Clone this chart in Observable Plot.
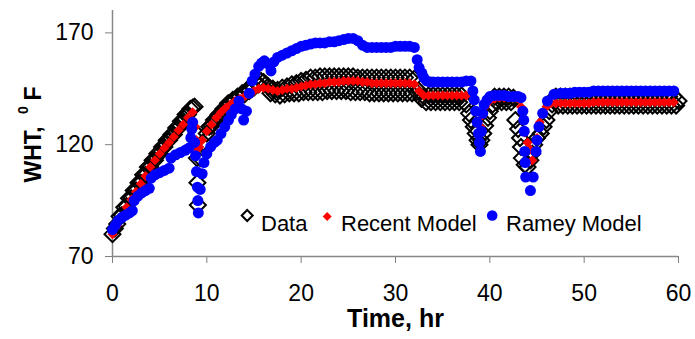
<!DOCTYPE html>
<html><head><meta charset="utf-8">
<script src="https://cdn.jsdelivr.net/npm/d3@7"></script>
<script src="https://cdn.jsdelivr.net/npm/@observablehq/plot@0.6"></script>
<style>
body{margin:0;background:#fff}
#chart svg [aria-label="x-axis tick"], #chart svg [aria-label="y-axis tick"]{stroke:#808080}
#chart svg .tick line{stroke:#808080}
#chart svg text{stroke:none}
</style></head><body><div id="chart"></div>
<script>
const xTicks = [0,10,20,30,40,50,60];
const yTicks = [70,120,170];
const seriesNames = ["Data","Recent Model","Ramey Model"];

// [time (hr), WHT (F)]
const dataSeries = [[0,80],[0.25,82.5],[0.5,84.5],[0.75,88],[1,88.5],[1.25,92],[1.5,92.5],[1.75,96],[2,96],[2.25,99.5],[2.5,99.5],[2.75,103],[3,103],[3.25,106.5],[3.5,106.5],[3.75,110],[4,110],[4.25,113],[4.5,113],[4.75,116],[5,116],[5.25,119],[5.5,119],[5.75,122],[6,122],[6.25,124.5],[6.5,124.5],[6.75,127.5],[7,127.5],[7.25,130.5],[7.5,130.5],[7.75,133.5],[8,133.5],[8.25,136],[8.5,136.5],[8.7,137],
[8.9,125],[8.95,114],[9.0,103],[9.05,93],[9.3,114],[9.6,121],
[10,125],[10.25,128],[10.5,128.5],[10.75,131],[11,131.5],[11.25,133.5],[11.5,134],[11.75,136],[12,136.5],[12.25,138.5],[12.5,138.5],[12.75,140],[13,140],[13.25,141.5],[13.5,141.5],[13.75,143],[14,142.5],[14.25,144.5],[14.5,144],[14.75,146],[15,145.5],[15.25,147.5],[15.5,147],[15.75,148.5],[16,148],[16.25,147],
[16.5,146],[16.75,143],[17,145],[17.25,142.5],[17.5,144.5],[17.75,142],[18,145.5],[18.25,142.5],[18.5,146],[18.75,143],[19,147],[19.25,143],[19.5,147.5],[19.75,143],[20,148.5],[20.25,143.5],[20.5,149],[20.75,143.5],[21,150],[21.25,143.5],[21.5,150],[21.75,143.5],[22,150.5],[22.25,143.5],[22.5,150.5],[22.75,144],[23,150.5],[23.25,144],[23.5,150.5],[23.75,144],[24,150.5],[24.25,144],[24.5,150.5],[24.75,144],[25,150.5],[25.25,143.5],[25.5,150.5],[25.75,143.5],[26,150],[26.25,143.5],[26.5,150],[26.75,143.5],[27,150],[27.25,143],[27.5,150],[27.75,143],[28,150],[28.25,143],[28.5,150],[28.75,143],[29,150],[29.25,143],[29.5,150],[29.75,143],[30,150],[30.25,143],[30.5,150],[30.75,143],[31,150],[31.25,143],[31.5,150],[31.75,143],[32,149.5],[32.25,143.5],[32.5,144],[32.75,140.5],[33,141.5],
[33.25,139],[33.5,142],[33.75,139],[34,142],[34.25,139],[34.5,142],[34.75,139],[35,142],[35.25,139],[35.5,142],[35.75,139],[36,142],[36.25,139],[36.5,142],[36.75,139],[37,142],[37.25,139],[37.5,138],
[37.8,134],[38.0,131],[38.3,128],[38.5,125],[38.7,122],[38.9,120],[39.1,122],[39.3,125],[39.5,128.5],[39.8,132],[40.0,135],[40.3,138],
[40.5,141.5],[40.75,139],[41,141.5],[41.25,139],[41.5,141.5],[41.75,139],[42,141.5],[42.25,139],[42.5,141],
[42.7,131],[43.0,127],[43.2,123],[43.3,119],[43.4,114],[43.7,111],[44.0,110],[44.3,113],[44.5,116],[44.7,120],[45.0,123],[45.4,125],[45.7,128],[46.0,131],[46.3,135],[46.6,138],
[47,141.5],[47.25,137.5],[47.5,141.5],[47.75,137.5],[48,141.5],[48.25,137.5],[48.5,141.5],[48.75,137.5],[49,141.5],[49.25,137.5],[49.5,141.5],[49.75,137.5],[50,141.5],[50.25,137.5],[50.5,141.5],[50.75,137.5],[51,141.5],[51.25,137.5],[51.5,141.5],[51.75,137.5],[52,141.5],[52.25,137.5],[52.5,141.5],[52.75,137.5],[53,141.5],[53.25,137.5],[53.5,141.5],[53.75,137.5],[54,141.5],[54.25,137.5],[54.5,141.5],[54.75,137.5],[55,141.5],[55.25,137.5],[55.5,141.5],[55.75,137.5],[56,141.5],[56.25,137.5],[56.5,141.5],[56.75,137.5],[57,141.5],[57.25,137.5],[57.5,141.5],[57.75,137.5],[58,141.5],[58.25,137.5],[58.5,141.5],[58.75,137.5],[59,141.5],[59.25,137.5],[59.5,141.5],[59.75,137.5],[60,139.5]];

const recentSeries = [[0,80],[0.5,84],[1,88],[1.5,92],[2,95.5],[2.5,99],[3,102.5],[3.5,106],[4,110],[4.5,113],[5,116],[5.5,118.5],[6,121],[6.5,123.5],[7,126.5],[7.5,129],[8,132],[8.5,134.5],
[8.8,128],[8.9,122],[9.0,118],[9.2,119],[9.5,122],
[10,126],[10.5,129],[11,132],[11.5,134.5],[12,136.5],[12.5,138],[13,139.5],[13.5,140.5],[14,141.5],[14.5,142.5],[15,144],[15.5,145],[16,145.5],[16.5,145],[17,144.5],[17.5,144],[18,144.5],[18.5,145],[19,145],[19.5,145.5],[20,146],[20.5,146.5],[21,147],[21.5,147],[22,147.5],[22.5,147.5],[23,148],[23.5,148],[24,148],[24.5,148.5],[25,148.5],[25.5,148.5],[26,148.5],[26.5,148],[27,148],[27.5,147.5],[28,147.5],[28.5,147.5],[29,147.5],[29.5,147.5],[30,147.5],[30.5,147.5],[31,147.5],[31.5,147.5],[32,147],[32.5,144],[33,142],[33.5,142],[34,142],[34.5,142],[35,142],[35.5,142],[36,142],[36.5,142],[37,142],[37.5,142],[38,142],
[38.3,140],[38.6,135],[38.8,129],[39.0,128],[39.2,133],[39.5,137],[40,139.5],[40.5,140.5],[41,141],[41.5,141],[42,141],[42.5,141],[43,140.5],
[43.3,137],[43.5,131],[43.7,125.5],[44.0,121],[44.3,118],[44.5,113],[44.7,117],[45.0,123],[45.3,130],[45.6,134],[46.0,137],[46.5,138.5],
[47,138.5],[47.5,138.5],[48,138.5],[48.5,138.5],[49,138.5],[49.5,138.5],[50,138.5],[50.5,138.5],[51,139],[51.5,139],[52,139],[52.5,139],[53,139],[53.5,139],[54,139],[54.5,139],[55,139],[55.5,139],[56,139],[56.5,139],[57,139],[57.5,139],[58,139],[58.5,139],[59,139],[59.5,139]];

const rameySeries = [[0,82],[0.3,84],[0.6,86],[1.0,87.5],[1.4,88.5],[1.8,89.5],[2.1,90.5],
[2.3,95],[2.7,97],[3.1,98.5],[3.5,99.5],[3.9,100.5],
[4.1,105],[4.5,106.5],[5.0,107.5],[5.5,108.5],[6.0,109.5],
[6.2,114],[6.7,115.5],[7.2,116.5],[7.7,117.5],[8.1,118.5],
[8.3,123],[8.4,127],[8.5,130],
[8.7,121],[8.8,115],[8.9,108],[9.0,101],[9.05,95],[9.1,89.5],
[9.3,100],[9.5,107],[9.7,112],[10,116],[10.4,119],[10.8,121],[11.1,122],[11.5,125],[11.9,128],[12.3,131],[12.6,133.5],[13.0,136],[13.4,139.5],[13.7,136],[13.9,131],[14.2,135],[14.5,143],[14.8,148.5],[15.1,151.5],[15.5,155],[15.8,156.5],[16.1,157.5],[16.5,156],[16.8,153],[17.1,157],[17.5,159],[18,160],[18.5,161],[19,162],[19.5,163],[20,164],[20.5,164.5],[21,165],[21.5,165.5],[22,165.5],[22.5,165.5],[23,166],[23.5,166],[24,166.5],[24.5,167],[25,167.5],[25.5,167.5],[26,166.5],[26.5,164.5],[27,163.5],[27.5,163.5],[28,163.5],[28.5,163.5],[29,163.5],[29.5,163.5],[30,164],[30.5,164],[31,164],[31.5,164],[32,163.5],
[32.3,158],[32.5,154.5],[32.8,152],[33.0,150],[33.3,148.5],[33.7,148],[34,148],[34.5,148],[35,148],[35.5,148],[36,148],[36.5,148],[37,148],[37.5,148.5],[38,148.5],
[38.2,144],[38.35,140],[38.5,135],[38.65,130],[38.8,125],[38.9,121],[39.0,117],[39.1,126],[39.25,134],[39.4,138],[39.7,140],[40,141.5],[40.5,142],[41,142],[41.5,142],[42,141.5],[42.5,141.5],[43,141.5],[43.3,141],
[43.5,135],[43.6,131],[43.65,126],[43.7,117],[43.75,112],[43.8,105.5],[44.3,99.5],[44.6,105.5],[44.9,117],[45.0,122],[45.2,128],[45.6,134],[46.1,139.5],[46.8,142.5],
[47.5,143],[48,143],[48.5,143],[49,143.5],[49.5,143.5],[50,143.5],[50.5,143.5],[51,144],[51.5,144],[52,144],[52.5,144],[53,144],[53.5,144],[54,144],[54.5,144],[55,144],[55.5,144],[56,144],[56.5,144],[57,144],[57.5,144],[58,144],[58.5,144],[59,144],[59.5,144]];

const rows = s => s.map(([t, v]) => ({t, v}));
const diamond = {draw(ctx, size) {
  const r = Math.sqrt(size / Math.PI);
  ctx.moveTo(0, -r); ctx.lineTo(r, 0); ctx.lineTo(0, r); ctx.lineTo(-r, 0); ctx.closePath();
}};
const font = '"Liberation Sans", Arial, sans-serif';

const chart = Plot.plot({
  width: 695, height: 339,
  marginLeft: 112, marginRight: 17, marginTop: 10, marginBottom: 83,
  style: {fontFamily: font, fontSize: "23px", color: "#000", background: "#fff", overflow: "visible"},
  x: {domain: [0, 60], ticks: xTicks, tickSize: 7, tickPadding: 21, label: null},
  y: {domain: [70, 180], ticks: yTicks, tickSize: 7, tickPadding: 12, label: null},
  marks: [
    Plot.ruleY([70], {stroke: "#888", strokeWidth: 1.5}),
    Plot.ruleX([0], {stroke: "#888", strokeWidth: 1.5}),
    Plot.dot(rows(dataSeries), {x: "t", y: "v", symbol: diamond, r: 8, stroke: "#000", strokeWidth: 2, fill: "none"}),
    Plot.dot(rows(recentSeries), {x: "t", y: "v", symbol: diamond, r: 5, fill: "#ff0000", stroke: "none"}),
    Plot.dot(rows(rameySeries), {x: "t", y: "v", r: 5.5, fill: "#0000ff", stroke: "none"}),
    // legend
    Plot.dot([seriesNames[0]], {frameAnchor: "top-left", dx: 134.7, dy: 205, symbol: diamond, r: 5.5, stroke: "#000", strokeWidth: 2, fill: "none"}),
    Plot.dot([seriesNames[1]], {frameAnchor: "top-left", dx: 214.7, dy: 206, symbol: diamond, r: 4.5, fill: "#ff0000", stroke: "none"}),
    Plot.dot([seriesNames[2]], {frameAnchor: "top-left", dx: 379.7, dy: 205, r: 5.3, fill: "#0000ff", stroke: "none"}),
    Plot.text([seriesNames[0]], {frameAnchor: "top-left", dx: 148.5, dy: 205, textAnchor: "start", fontSize: 22, fill: "#000"}),
    Plot.text([seriesNames[1]], {frameAnchor: "top-left", dx: 228.5, dy: 205, textAnchor: "start", fontSize: 22, fill: "#000"}),
    Plot.text([seriesNames[2]], {frameAnchor: "top-left", dx: 393.5, dy: 205, textAnchor: "start", fontSize: 22, fill: "#000"}),
    // axis titles
    Plot.text(["Time, hr"], {frameAnchor: "bottom", dy: 70.5, fontSize: 25, fontWeight: "bold", fill: "#000"}),
    Plot.text(["WHT,"], {frameAnchor: "top-left", dx: -88, dy: 172, rotate: -90, textAnchor: "start", fontSize: 23, fontWeight: "bold", fill: "#000"}),
    Plot.text(["0"], {frameAnchor: "top-left", dx: -94.5, dy: 103.5, rotate: -90, textAnchor: "start", fontSize: 14, fontWeight: "bold", fill: "#000"}),
    Plot.text(["F"], {frameAnchor: "top-left", dx: -88, dy: 90, rotate: -90, textAnchor: "start", fontSize: 23, fontWeight: "bold", fill: "#000"})
  ]
});
document.getElementById("chart").appendChild(chart);
</script></body></html>
